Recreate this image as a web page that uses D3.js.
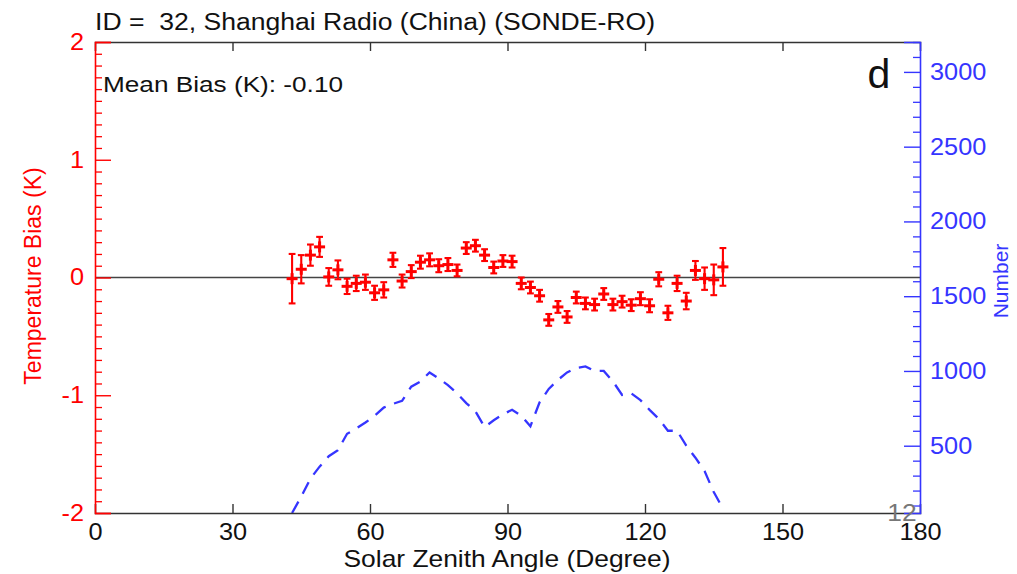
<!DOCTYPE html>
<html>
<head>
<meta charset="utf-8">
<script src="https://cdn.jsdelivr.net/npm/d3@7"></script>
<style>
  html, body { margin: 0; padding: 0; background: #fff; }
  svg { display: block; font-family: "Liberation Sans", Arial, Helvetica, sans-serif; }
</style>
</head>
<body>
<svg id="chart" width="1017" height="574"></svg>
<script>
// Solar zenith angle bins (degrees)
const zenith = [43, 45, 47, 49, 51, 53, 55, 57, 59, 61, 63, 65, 67, 69, 71, 73,
  75, 77, 79, 81, 83, 85, 87, 89, 91, 93, 95, 97, 99, 101, 103, 105,
  107, 109, 111, 113, 115, 117, 119, 121, 123, 125, 127, 129, 131, 133, 135, 137];

// Mean temperature bias per bin (K)
const bias = [-0.01, 0.07, 0.19, 0.26, 0.005, 0.065, -0.075, -0.05, -0.04, -0.13, -0.105, 0.15,
  -0.03, 0.05, 0.13, 0.15, 0.10, 0.11, 0.06, 0.25, 0.27, 0.19, 0.085, 0.14,
  0.135, -0.05, -0.085, -0.155, -0.36, -0.25, -0.335, -0.17, -0.22, -0.23, -0.14, -0.23,
  -0.205, -0.235, -0.18, -0.24, -0.015, -0.30, -0.05, -0.20, 0.06, -0.01, -0.02, 0.09];

// Half-width of the error bar per bin (K)
const biasErr = [0.21, 0.12, 0.09, 0.085, 0.075, 0.08, 0.065, 0.065, 0.065, 0.06, 0.065, 0.06,
  0.055, 0.055, 0.055, 0.055, 0.055, 0.055, 0.05, 0.05, 0.05, 0.05, 0.05, 0.05,
  0.05, 0.05, 0.05, 0.05, 0.05, 0.05, 0.05, 0.05, 0.05, 0.05, 0.05, 0.05,
  0.05, 0.05, 0.055, 0.055, 0.06, 0.06, 0.065, 0.07, 0.08, 0.095, 0.13, 0.16];

// Number of collocated samples per bin
const counts = [50, 160, 280, 360, 430, 470, 580, 615, 655, 700, 755, 780,
  800, 895, 930, 990, 950, 905, 850, 785, 730, 625, 670, 710,
  740, 700, 630, 790, 880, 940, 990, 1020, 1030, 1000, 1000, 930,
  840, 850, 805, 740, 680, 600, 600, 500, 420, 330, 190, 80];

// Axis tick values
const xTicks = [0, 30, 60, 90, 120, 150, 180];
const biasTicks = [-2, -1, 0, 1, 2];
const countTicks = [500, 1000, 1500, 2000, 2500, 3000];

const titleText = "ID =  32, Shanghai Radio (China) (SONDE-RO)";
const meanBiasText = "Mean Bias (K): -0.10";

const RED = "#ff0000";
const BLUE = "#3535ff";
const AXIS = "#333333";
const FONT = "Liberation Sans, Arial, sans-serif";

const svg = d3.select("#chart");
const L = 95, R = 920, T = 42, B = 513;

const x = d3.scaleLinear().domain([0, 180]).range([L, R]);
const y = d3.scaleLinear().domain([-2, 2]).range([B, T]);
const yN = d3.scaleLinear().domain([50, 3200]).range([B, T]);

// Widen glyphs horizontally by a factor (the lettering is slightly wide)
function widen(sel, k) {
  sel.each(function () {
    const w = this.getComputedTextLength();
    d3.select(this).attr("textLength", w * k).attr("lengthAdjust", "spacingAndGlyphs");
  });
}

// Dashed sample-count curve
const line = d3.line().x((d, i) => x(zenith[i])).y(d => yN(d));
svg.append("path")
  .datum(counts)
  .attr("d", line)
  .attr("fill", "none")
  .attr("stroke", BLUE)
  .attr("stroke-width", 2.3)
  .attr("stroke-dasharray", "13,9");

// Zero reference line
svg.append("line")
  .attr("x1", L).attr("x2", R)
  .attr("y1", y(0)).attr("y2", y(0))
  .attr("stroke", "#444").attr("stroke-width", 1.6);

// Bottom and top axes
const xBottom = d3.axisBottom(x).tickValues(xTicks).tickSize(-9).tickPadding(11).tickFormat(d => String(d));
const gxb = svg.append("g").attr("transform", `translate(0,${B})`).call(xBottom);
gxb.select(".domain").attr("stroke", AXIS).attr("stroke-width", 1.6);
gxb.selectAll(".tick line").attr("stroke", AXIS).attr("stroke-width", 1.4);
gxb.selectAll(".tick text").attr("font-size", 23).attr("fill", "#111").attr("font-family", FONT).call(widen, 1.1);
gxb.selectAll(".tick").filter(d => d === 0 || d === 180).select("line").remove();

const xTop = d3.axisTop(x).tickValues(xTicks).tickSize(-9).tickFormat("");
const gxt = svg.append("g").attr("transform", `translate(0,${T})`).call(xTop);
gxt.select(".domain").attr("stroke", AXIS).attr("stroke-width", 1.6);
gxt.selectAll(".tick line").attr("stroke", AXIS).attr("stroke-width", 1.4);
gxt.selectAll(".tick").filter(d => d === 0 || d === 180).select("line").remove();

// Left (bias) axis, red, with minor ticks every 0.1 K
const minorBias = d3.range(-20, 21).map(v => v / 10).filter(v => !biasTicks.some(t => Math.abs(t - v) < 1e-9));
const gyMinor = svg.append("g").attr("transform", `translate(${L},0)`)
  .call(d3.axisLeft(y).tickValues(minorBias).tickSize(-7).tickFormat(""));
gyMinor.select(".domain").remove();
gyMinor.selectAll(".tick line").attr("stroke", RED).attr("stroke-width", 1.3);

const gy = svg.append("g").attr("transform", `translate(${L},0)`)
  .call(d3.axisLeft(y).tickValues(biasTicks).tickSize(-16).tickPadding(11).tickFormat(d => String(d)));
gy.select(".domain").attr("stroke", RED).attr("stroke-width", 1.6);
gy.selectAll(".tick line").attr("stroke", RED).attr("stroke-width", 1.4);
gy.selectAll(".tick text").attr("fill", RED).attr("font-size", 23).attr("font-family", FONT).call(widen, 1.1);

// Right (count) axis, blue, with minor ticks every 100
const minorCounts = d3.range(100, 3201, 100).filter(v => !countTicks.includes(v));
const gnMinor = svg.append("g").attr("transform", `translate(${R},0)`)
  .call(d3.axisRight(yN).tickValues(minorCounts).tickSize(-7).tickFormat(""));
gnMinor.select(".domain").remove();
gnMinor.selectAll(".tick line").attr("stroke", BLUE).attr("stroke-width", 1.3);

const gn = svg.append("g").attr("transform", `translate(${R},0)`)
  .call(d3.axisRight(yN).tickValues(countTicks).tickSize(-16).tickPadding(10).tickFormat(d => String(d)));
gn.select(".domain").attr("stroke", BLUE).attr("stroke-width", 1.6);
gn.selectAll(".tick line").attr("stroke", BLUE).attr("stroke-width", 1.4);
gn.selectAll(".tick text").attr("fill", BLUE).attr("font-size", 23).attr("font-family", FONT).call(widen, 1.1);

// Bias markers with error bars
const pts = svg.append("g").attr("stroke", RED).attr("stroke-width", 3).attr("fill", "none")
  .style("filter", "blur(0.5px)");
zenith.forEach((z, i) => {
  const cx = x(z), cy = y(bias[i]);
  const lo = y(bias[i] - biasErr[i]), hi = y(bias[i] + biasErr[i]);
  const g = pts.append("g");
  g.append("line").attr("x1", cx).attr("x2", cx).attr("y1", lo).attr("y2", hi).attr("stroke-width", 2.1);
  g.append("line").attr("x1", cx - 3.4).attr("x2", cx + 3.4).attr("y1", lo).attr("y2", lo).attr("stroke-width", 2.1);
  g.append("line").attr("x1", cx - 3.4).attr("x2", cx + 3.4).attr("y1", hi).attr("y2", hi).attr("stroke-width", 2.1);
  g.append("line").attr("x1", cx - 5.5).attr("x2", cx + 5.5).attr("y1", cy).attr("y2", cy);
  g.append("line").attr("x1", cx).attr("x2", cx).attr("y1", cy - 5.5).attr("y2", cy + 5.5);
});

// Texts
svg.append("text").attr("x", L).attr("y", 30).attr("font-size", 23).attr("fill", "#111")
  .style("white-space", "pre").attr("textLength", 560).attr("lengthAdjust", "spacingAndGlyphs").text(titleText);
svg.append("text").attr("x", 103).attr("y", 92).attr("font-size", 22).attr("fill", "#111")
  .attr("textLength", 240).attr("lengthAdjust", "spacingAndGlyphs").text(meanBiasText);
svg.append("text").attr("x", 879).attr("y", 88).attr("font-size", 41).attr("text-anchor", "middle").attr("fill", "#111").text("d");
svg.append("text").attr("x", 902).attr("y", 521).attr("font-size", 24).attr("text-anchor", "middle").attr("fill", "#777")
  .text("12").call(widen, 1.1);

svg.append("text").attr("x", 507).attr("y", 567).attr("font-size", 24).attr("text-anchor", "middle").attr("fill", "#111")
  .attr("textLength", 327).attr("lengthAdjust", "spacingAndGlyphs").text("Solar Zenith Angle (Degree)");
svg.append("text").attr("transform", `translate(41,276) rotate(-90)`).attr("font-size", 23)
  .attr("text-anchor", "middle").attr("fill", RED).text("Temperature Bias (K)");
svg.append("text").attr("transform", `translate(1008,281) rotate(-90)`).attr("font-size", 21)
  .attr("text-anchor", "middle").attr("fill", BLUE).text("Number");
</script>
</body>
</html>
